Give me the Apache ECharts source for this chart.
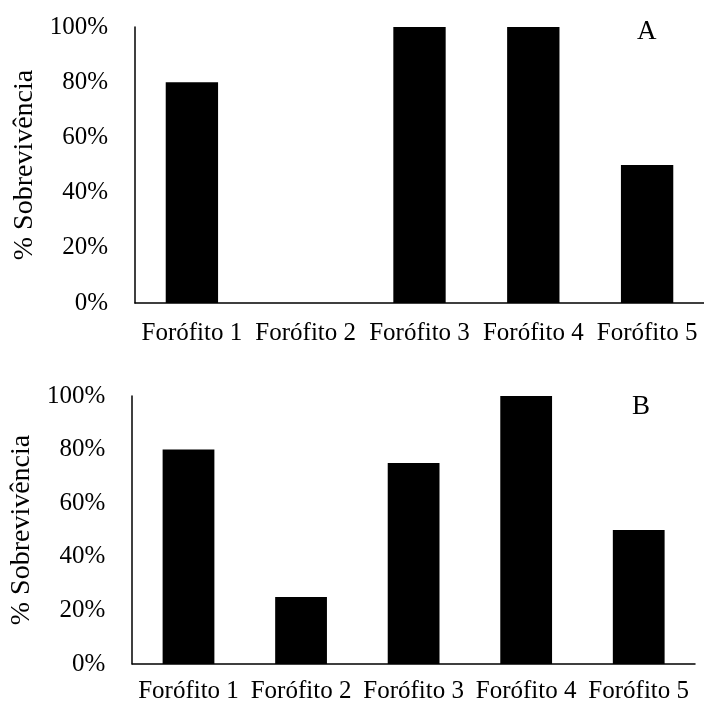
<!DOCTYPE html>
<html><head><meta charset="utf-8">
<script src="https://cdn.jsdelivr.net/npm/echarts@6/dist/echarts.min.js"></script>
<style>html,body{margin:0;padding:0;background:#fff}#c{width:704px;height:704px}</style>
</head><body><div id="c"></div>
<script>
const categories = ['Forófito 1','Forófito 2','Forófito 3','Forófito 4','Forófito 5'];
const valuesA = [80, 0, 100, 100, 50];
const valuesB = [80, 25, 75, 100, 50];
const yTicks = [0, 20, 40, 60, 80, 100];
const panelLabels = ['A', 'B'];
const yTitle = '% Sobrevivência';

const font = 'Liberation Serif, Times New Roman, serif';
const chart = echarts.init(document.getElementById('c'), null, {renderer:'canvas'});
function xAxis(i, m){return {type:'category',gridIndex:i,data:categories,
  axisLine:{lineStyle:{color:'#000',width:1.5}},axisTick:{show:false},
  axisLabel:{color:'#000',fontFamily:font,fontSize:25,margin:m,interval:0}};}
function yAxis(i){return {type:'value',gridIndex:i,min:yTicks[0],max:yTicks[yTicks.length-1],interval:20,
  name:yTitle,nameLocation:'middle',nameGap:96,nameRotate:90,
  nameTextStyle:{color:'#000',fontFamily:font,fontSize:28},
  axisLine:{show:true,lineStyle:{color:'#000',width:1.5}},axisTick:{show:false},splitLine:{show:false},
  axisLabel:{color:'#000',fontFamily:font,fontSize:25,margin:27,formatter:v=>v+'%'}};}
chart.setOption({
  animation:false,
  grid:[{left:135,right:0,top:27,height:276},{left:130,right:9,top:396,height:269}],
  xAxis:[xAxis(0,18),xAxis(1,15)],
  yAxis:[yAxis(0),yAxis(1)],
  graphic:[
    {type:'text',left:637,top:18,style:{text:panelLabels[0],font:'27px '+font,fill:'#000'}},
    {type:'text',left:632,top:393,style:{text:panelLabels[1],font:'27px '+font,fill:'#000'}}
  ],
  series:[
    {type:'bar',xAxisIndex:0,yAxisIndex:0,data:valuesA,barWidth:'46%',itemStyle:{color:'#000'}},
    {type:'bar',xAxisIndex:1,yAxisIndex:1,data:valuesB,barWidth:'46%',itemStyle:{color:'#000'}}
  ]
});
</script></body></html>
